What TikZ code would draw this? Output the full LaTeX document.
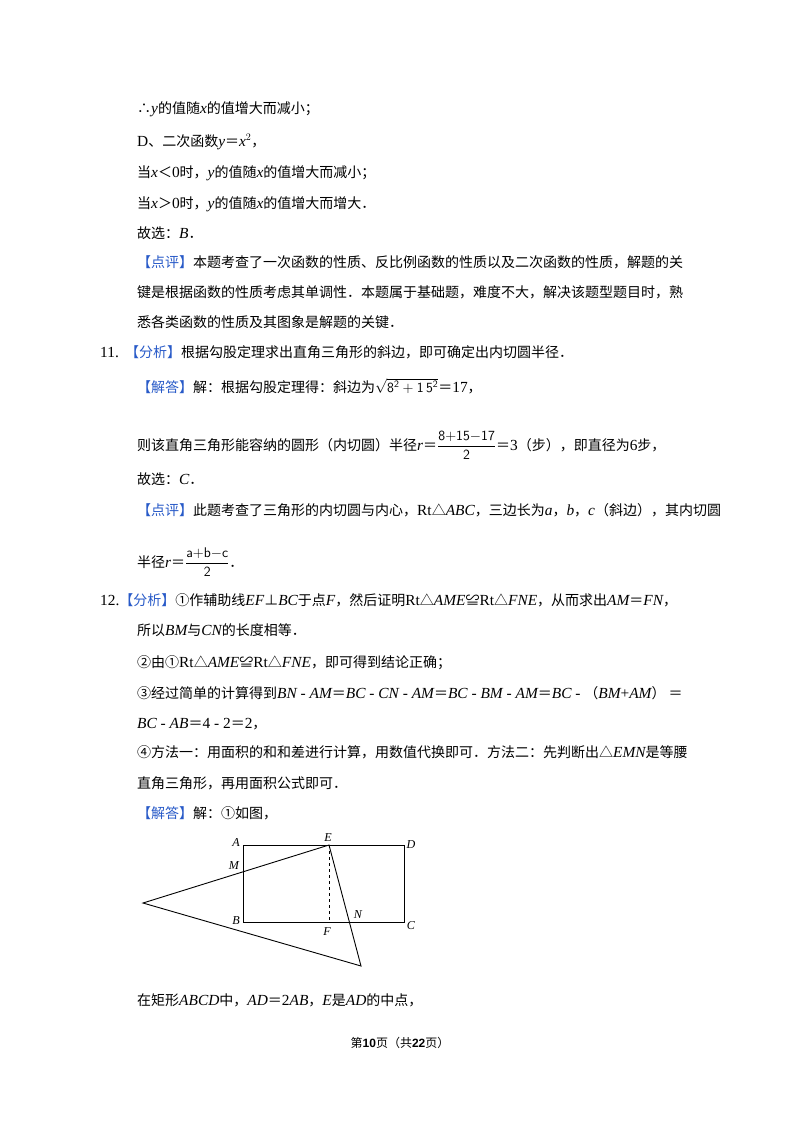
\documentclass[tikz,border=0pt]{standalone}
\usepackage{amsmath}
\usepackage{fontspec}
\setmainfont{Noto Sans CJK SC}
\newfontfamily\lat[Scale=1.1]{Liberation Serif}
\newfontfamily\las{Liberation Sans}
\newcommand{\mi}[1]{{\lat\itshape #1}}
\newcommand{\up}[1]{{\lat #1}}
\definecolor{lblue}{RGB}{40,90,200}
\newcommand{\btag}[1]{{\color{lblue}【#1】}}
\begin{document}
\begin{tikzpicture}[x=1pt,y=-1pt,
  tx/.style={anchor=base west,inner sep=0pt,font=\fontsize{14}{17}\selectfont},
  lbl/.style={inner sep=0pt,font=\fontsize{11}{14}\selectfont\lat\itshape},
  ln/.style={line width=0.9pt}]
\useasboundingbox[fill=white] (0,0) rectangle (800,1132);
\node[tx] (t1) at (137,113) {∴\mi{y}的值随\mi{x}的值增大而减小；};
\node[tx] (t2) at (137,146) {\up{D}、二次函数\mi{y}＝\mi{x}$^{\up{2}}$，};
\node[tx] (t3) at (137,177) {当\mi{x}＜\up{0}时，\mi{y}的值随\mi{x}的值增大而减小；};
\node[tx] (t4) at (137,208) {当\mi{x}＞\up{0}时，\mi{y}的值随\mi{x}的值增大而增大．};
\node[tx] (t5) at (137,238) {故选：\mi{B}．};
\node[tx] (t6) at (137,267) {\btag{点评}本题考查了一次函数的性质、反比例函数的性质以及二次函数的性质，解题的关};
\node[tx] (t7) at (137,297) {键是根据函数的性质考虑其单调性．本题属于基础题，难度不大，解决该题型题目时，熟};
\node[tx] (t8) at (137,327) {悉各类函数的性质及其图象是解题的关键．};
\node[tx] (t9) at (100,357) {\up{11.}\ \ \btag{分析}根据勾股定理求出直角三角形的斜边，即可确定出内切圆半径．};
\node[tx] (t10) at (137,392) {\btag{解答}解：根据勾股定理得：斜边为$\sqrt{\mathsf{8^2+1\,5^2}}$＝\up{17}，};
\node[tx] (t11) at (137,450) {则该直角三角形能容纳的圆形（内切圆）半径\mi{r}＝$\dfrac{\mathsf{8{+}15{-}17}}{\mathsf{2}}$＝\up{3}（步），即直径为\up{6}步，};
\node[tx] (t12) at (137,484) {故选：\mi{C}．};
\node[tx] (t13) at (137,515) {\btag{点评}此题考查了三角形的内切圆与内心，\up{Rt}△\mi{ABC}，三边长为\mi{a}，\mi{b}，\mi{c}（斜边），其内切圆};
\node[tx] (t14) at (137,567) {半径\mi{r}＝$\dfrac{\mathsf{a{+}b{-}c}}{\mathsf{2}}$．};
\node[tx] (t15) at (100,605) {\up{12.}\btag{分析}①作辅助线\mi{EF}⊥\mi{BC}于点\mi{F}，然后证明\up{Rt}△\mi{AME}≌\up{Rt}△\mi{FNE}，从而求出\mi{AM}＝\mi{FN}，};
\node[tx] (t16) at (137,635) {所以\mi{BM}与\mi{CN}的长度相等．};
\node[tx] (t17) at (137,667) {②由①\up{Rt}△\mi{AME}≌\up{Rt}△\mi{FNE}，即可得到结论正确；};
\node[tx] (t18) at (137,698) {③经过简单的计算得到\mi{BN}\up{ - }\mi{AM}＝\mi{BC}\up{ - }\mi{CN}\up{ - }\mi{AM}＝\mi{BC}\up{ - }\mi{BM}\up{ - }\mi{AM}＝\mi{BC}\up{ - }（\mi{BM}\up{+}\mi{AM}）\ ＝};
\node[tx] (t19) at (137,728) {\mi{BC}\up{ - }\mi{AB}＝\up{4 - 2}＝\up{2}，};
\node[tx] (t20) at (137,757) {④方法一：用面积的和和差进行计算，用数值代换即可．方法二：先判断出△\mi{EMN}是等腰};
\node[tx] (t21) at (137,788) {直角三角形，再用面积公式即可．};
\node[tx] (t22) at (137,818) {\btag{解答}解：①如图，};
% figure
\coordinate (A) at (243,845); \coordinate (D) at (404,845);
\coordinate (B) at (243,922); \coordinate (C) at (404,922);
\coordinate (E) at (329,845); \coordinate (F) at (329,922);
\coordinate (P) at (143,903); \coordinate (Q) at (361,966);
\draw[ln] (A) -- (D) -- (C) -- (B) -- cycle;
\draw[ln] (P) -- (E) -- (Q) -- cycle;
\draw[ln,dashed] (E) -- (F);
\node[lbl] (lA) at (236,842) {A};
\node[lbl] (lE) at (328,838) {E};
\node[lbl] (lD) at (411,845) {D};
\node[lbl] (lM) at (234,866) {M};
\node[lbl] (lB) at (236,921) {B};
\node[lbl] (lF) at (327,932) {F};
\node[lbl] (lN) at (358,915) {N};
\node[lbl] (lC) at (411,926) {C};
\node[tx] (t23) at (137,1005) {在矩形\mi{ABCD}中，\mi{AD}＝\up{2}\mi{AB}，\mi{E}是\mi{AD}的中点，};
\node[anchor=base,inner sep=0pt,font=\fontsize{12}{14}\selectfont] (ft) at (400,1047) {第{\las\bfseries 10}页（共{\las\bfseries 22}页）};
\end{tikzpicture}
\end{document}
